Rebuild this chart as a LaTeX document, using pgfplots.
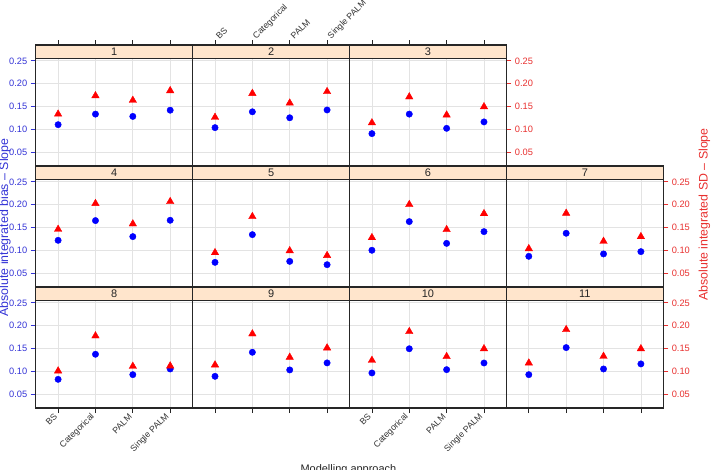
\documentclass[border=0pt]{standalone}
\usepackage{fontspec}
\setmainfont{Liberation Sans}
\usepackage{pgfplots}
\usepackage{pgfplotstable}
\pgfplotsset{compat=1.18}

\definecolor{stripc}{HTML}{FFE5CC}
\definecolor{gridc}{HTML}{E3E3E3}
\definecolor{bluec}{HTML}{3333D6}
\definecolor{redc}{HTML}{E8302F}

% columns: x (category), b (abs. integrated bias), s (abs. integrated SD)
\pgfplotstableread{
x b s
1 0.1110 0.1340
2 0.1340 0.1740
3 0.1290 0.1640
4 0.1425 0.1850
}\pone
\pgfplotstableread{
x b s
1 0.1045 0.1270
2 0.1390 0.1790
3 0.1260 0.1580
4 0.1430 0.1830
}\ptwo
\pgfplotstableread{
x b s
1 0.0915 0.1150
2 0.1340 0.1715
3 0.1030 0.1320
4 0.1170 0.1500
}\pthree
\pgfplotstableread{
x b s
1 0.1226 0.1466
2 0.1656 0.2027
3 0.1307 0.1584
4 0.1663 0.2070
}\pfour
\pgfplotstableread{
x b s
1 0.0747 0.0958
2 0.1350 0.1743
3 0.0768 0.1000
4 0.0696 0.0896
}\pfive
\pgfplotstableread{
x b s
1 0.1010 0.1285
2 0.1634 0.2005
3 0.1160 0.1460
4 0.1416 0.1808
}\psix
\pgfplotstableread{
x b s
1 0.0878 0.1045
2 0.1380 0.1816
3 0.0930 0.1205
4 0.0980 0.1307
}\pseven
\pgfplotstableread{
x b s
1 0.0834 0.1017
2 0.1380 0.1780
3 0.0936 0.1118
4 0.1060 0.1126
}\peight
\pgfplotstableread{
x b s
1 0.0900 0.1148
2 0.1423 0.1824
3 0.1039 0.1314
4 0.1192 0.1518
}\pnine
\pgfplotstableread{
x b s
1 0.0973 0.1248
2 0.1500 0.1874
3 0.1045 0.1330
4 0.1190 0.1500
}\pten
\pgfplotstableread{
x b s
1 0.0936 0.1190
2 0.1525 0.1918
3 0.1060 0.1335
4 0.1170 0.1500
}\peleven

\pgfplotsset{
  panel/.style={
    scale only axis, width=156.9bp, height=121bp,
    anchor=north west,
    xmin=0.4, xmax=4.6, ymin=0.021, ymax=0.28444,
    xtick={1,2,3,4}, ytick={0.05,0.10,0.15,0.20,0.25},
    xticklabels={}, yticklabels={},
    grid=major, major grid style={draw=gridc, line width=0.7bp},
    axis line style={draw=black!85, line width=1.1bp},
    tick align=outside, major tick length=5bp,
    xtick style={draw=none}, ytick style={draw=none},
    tick label style={font=\fontsize{9.3}{10}\selectfont},
    clip=false,
  },
  topx/.style={xtick pos=right, xtick style={draw=black!85, line width=0.7bp}},
  botx/.style={xtick pos=left, xtick style={draw=black!85, line width=0.7bp}},
  toplab/.style={xticklabel pos=right, xticklabels={BS,Categorical,PALM,Single PALM},
    xticklabel style={rotate=45, anchor=west, text=black!80, font=\fontsize{8.8}{10}\selectfont}},
  botlab/.style={xticklabels={BS,Categorical,PALM,Single PALM},
    xticklabel style={rotate=45, anchor=east, text=black!80, font=\fontsize{8.8}{10}\selectfont}},
  lefty/.style={ytick pos=left, yticklabel pos=left, ytick style={draw=bluec, line width=0.7bp},
    yticklabels={0.05,0.10,0.15,0.20,0.25}, yticklabel style={text=bluec}},
  righty/.style={ytick pos=right, yticklabel pos=right, ytick style={draw=redc, line width=0.7bp},
    yticklabels={0.05,0.10,0.15,0.20,0.25}, yticklabel style={text=redc}},
}

\newcommand{\pts}[1]{%
  \addplot[only marks, mark=*, mark size=3.2bp, color=blue] table[x=x,y=b] {#1};
  \addplot[only marks, mark=triangle*, mark size=4.3bp, color=red] table[x=x,y=s] {#1};
}
\newcommand{\strip}[1]{%
  \draw[fill=stripc, draw=black!85, line width=1.1bp] (rel axis cs:0,0.88595) rectangle (rel axis cs:1,1);
  \node[font=\fontsize{11}{12}\selectfont, text=black!85] at (rel axis cs:0.5,0.943) {#1};
}

\begin{document}
\begin{tikzpicture}
\useasboundingbox (0,0) rectangle (711bp,-470bp);
% row 1
\begin{axis}[panel, topx, lefty, at={(35.7bp,-45bp)}]
\pts{\pone}\strip{1}
\end{axis}
\begin{axis}[panel, topx, toplab, at={(192.6bp,-45bp)}]
\pts{\ptwo}\strip{2}
\end{axis}
\begin{axis}[panel, topx, righty, at={(349.5bp,-45bp)}]
\pts{\pthree}\strip{3}
\end{axis}
% row 2
\begin{axis}[panel, lefty, at={(35.7bp,-166bp)}]
\pts{\pfour}\strip{4}
\end{axis}
\begin{axis}[panel, at={(192.6bp,-166bp)}]
\pts{\pfive}\strip{5}
\end{axis}
\begin{axis}[panel, at={(349.5bp,-166bp)}]
\pts{\psix}\strip{6}
\end{axis}
\begin{axis}[panel, righty, at={(506.4bp,-166bp)}]
\pts{\pseven}\strip{7}
\end{axis}
% row 3
\begin{axis}[panel, botx, botlab, lefty, at={(35.7bp,-287bp)}]
\pts{\peight}\strip{8}
\end{axis}
\begin{axis}[panel, botx, at={(192.6bp,-287bp)}]
\pts{\pnine}\strip{9}
\end{axis}
\begin{axis}[panel, botx, botlab, at={(349.5bp,-287bp)}]
\pts{\pten}\strip{10}
\end{axis}
\begin{axis}[panel, botx, righty, at={(506.4bp,-287bp)}]
\pts{\peleven}\strip{11}
\end{axis}
% axis titles
\node[rotate=90, text=bluec, font=\fontsize{12.4}{13}\selectfont] at (5bp,-227.5bp) {Absolute integrated bias – Slope};
\node[rotate=90, text=redc, font=\fontsize{12.4}{13}\selectfont] at (704.5bp,-214.5bp) {Absolute integrated SD – Slope};
\node[anchor=north, inner sep=0pt, text=black!85, font=\fontsize{11}{12}\selectfont] at (348.4bp,-464.5bp) {Modelling approach};
\end{tikzpicture}
\end{document}
